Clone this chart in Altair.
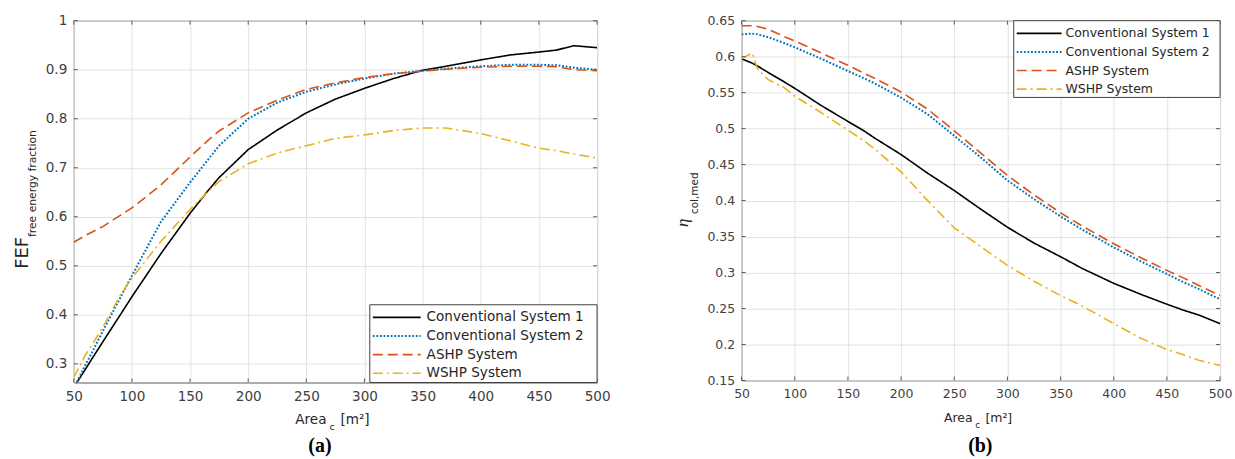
import altair as alt
import pandas as pd

SERIES = ["Conventional System 1", "Conventional System 2", "ASHP System", "WSHP System"]
COLORS = ["#000000", "#0072BD", "#D95319", "#EDB120"]
DASHES = [[1, 0], [1.8, 1.8], [10, 5], [10, 4, 2, 4]]
WIDTHS = [1.6, 2.0, 1.6, 1.6]

AREA = [50, 60, 65, 75, 90, 100, 125, 150, 165, 175, 200, 225, 250, 275, 300,
        325, 350, 370, 400, 425, 450, 465, 480, 500]

# (a) free energy fraction
FEF_CONV1 = [0.252, 0.289, 0.308, 0.345, 0.400, 0.437, 0.525, 0.607, 0.652, 0.680, 0.737, 0.777,
             0.812, 0.840, 0.862, 0.882, 0.899, 0.907, 0.920, 0.930, 0.936, 0.940, 0.949, 0.945]
FEF_CONV2 = [0.250, 0.298, 0.320, 0.367, 0.435, 0.480, 0.590, 0.670, 0.715, 0.745, 0.800, 0.833,
             0.855, 0.870, 0.882, 0.892, 0.898, 0.902, 0.907, 0.910, 0.910, 0.909, 0.904, 0.900]
FEF_ASHP = [0.548, 0.562, 0.568, 0.580, 0.603, 0.618, 0.665, 0.722, 0.755, 0.775, 0.812, 0.838,
            0.860, 0.873, 0.884, 0.892, 0.897, 0.901, 0.905, 0.907, 0.907, 0.906, 0.900, 0.898]
FEF_WSHP = [0.272, 0.318, 0.336, 0.375, 0.440, 0.475, 0.550, 0.615, 0.650, 0.672, 0.708, 0.730,
            0.745, 0.760, 0.767, 0.776, 0.781, 0.781, 0.770, 0.755, 0.740, 0.735, 0.728, 0.720]

# (b) collector efficiency
ETA_CONV1 = [0.597, 0.591, 0.587, 0.578, 0.565, 0.556, 0.532, 0.510, 0.497, 0.487, 0.464, 0.438,
             0.414, 0.388, 0.363, 0.341, 0.322, 0.306, 0.285, 0.270, 0.256, 0.248, 0.241, 0.229]
ETA_CONV2 = [0.631, 0.632, 0.631, 0.627, 0.619, 0.613, 0.597, 0.580, 0.570, 0.563, 0.543, 0.520,
             0.490, 0.460, 0.428, 0.402, 0.378, 0.360, 0.335, 0.316, 0.298, 0.287, 0.277, 0.263]
ETA_ASHP = [0.643, 0.643, 0.642, 0.638, 0.628, 0.622, 0.605, 0.588, 0.577, 0.570, 0.551, 0.527,
            0.497, 0.466, 0.435, 0.408, 0.383, 0.365, 0.340, 0.321, 0.303, 0.293, 0.282, 0.268]
ETA_WSHP = [0.597, 0.605, 0.583, 0.568, 0.557, 0.545, 0.522, 0.498, 0.483, 0.472, 0.440, 0.400,
            0.362, 0.336, 0.310, 0.288, 0.268, 0.254, 0.229, 0.209, 0.193, 0.186, 0.178, 0.171]

X_TICKS = [50, 100, 150, 200, 250, 300, 350, 400, 450, 500]
FEF_TICKS = [0.3, 0.4, 0.5, 0.6, 0.7, 0.8, 0.9, 1.0]
ETA_TICKS = [0.15, 0.2, 0.25, 0.3, 0.35, 0.4, 0.45, 0.5, 0.55, 0.6, 0.65]

SANS = "DejaVu Sans"
SERIF = "Liberation Serif"
BORDER = "#595959"
LABEL = "#404040"
GRID = "#e2e2e2"


def panel(series_vals, y_ticks, y_dom, w, h, fs, leg, titles, anchor):
    xs = alt.Scale(domain=[50, 500], nice=False, zero=False)
    ys = alt.Scale(domain=y_dom, nice=False, zero=False)
    xax = alt.Axis(values=X_TICKS, title=None, ticks=False, domain=False, grid=True,
                   gridColor=GRID, labelFont=SANS, labelFontSize=fs, labelColor=LABEL,
                   labelPadding=7, format="d", labelFlush=False)
    yax = alt.Axis(values=y_ticks, title=None, ticks=False, domain=False, grid=True,
                   gridColor=GRID, labelFont=SANS, labelFontSize=fs, labelColor=LABEL,
                   labelPadding=7, format="~g", labelFlush=False)

    layers = []
    for i, (name, vals) in enumerate(zip(SERIES, series_vals)):
        df = pd.DataFrame({"area": AREA, "val": vals, "series": name})
        layers.append(alt.Chart(df).mark_line(
            clip=True, strokeWidth=WIDTHS[i], color=COLORS[i], strokeDash=DASHES[i]
        ).encode(
            x=alt.X("area:Q", scale=xs, axis=xax),
            y=alt.Y("val:Q", scale=ys, axis=yax),
        ))

    ytdf = pd.DataFrame({"val": y_ticks})
    xtdf = pd.DataFrame({"area": X_TICKS})
    tl = 4
    layers += [
        alt.Chart(ytdf).mark_rule(color=BORDER).encode(
            y=alt.Y("val:Q", scale=ys, axis=yax), x=alt.value(0), x2=alt.value(tl)),
        alt.Chart(ytdf).mark_rule(color=BORDER).encode(
            y=alt.Y("val:Q", scale=ys, axis=yax), x=alt.value(w - tl), x2=alt.value(w)),
        alt.Chart(xtdf).mark_rule(color=BORDER).encode(
            x=alt.X("area:Q", scale=xs, axis=xax), y=alt.value(h - tl), y2=alt.value(h)),
        alt.Chart(xtdf).mark_rule(color=BORDER).encode(
            x=alt.X("area:Q", scale=xs, axis=xax), y=alt.value(0), y2=alt.value(tl)),
    ]

    one = alt.Data(values=[{"k": 1}])

    # legend
    bx0, bx1, by0, by1, sx0, sx1, tx, ry, lfs = leg
    layers.append(alt.Chart(one).mark_rect(fill="white", stroke="#404040", strokeWidth=1).encode(
        x=alt.value(bx0), x2=alt.value(bx1), y=alt.value(by0), y2=alt.value(by1)))
    for i, s in enumerate(SERIES):
        layers.append(alt.Chart(one).mark_rule(color=COLORS[i], strokeDash=DASHES[i],
                                               strokeWidth=WIDTHS[i]).encode(
            x=alt.value(sx0), x2=alt.value(sx1), y=alt.value(ry[i])))
        layers.append(alt.Chart(one).mark_text(text=s, font=SANS, fontSize=lfs, color="#262626",
                                               align="left", baseline="middle").encode(
            x=alt.value(tx), y=alt.value(ry[i])))

    # titles
    for t in titles:
        txt, x, y, f, size, ang, align, style, weight = t
        kw = dict(text=txt, font=f, fontSize=size, align=align, baseline="alphabetic",
                  color="#262626" if weight == "normal" else "#000000", fontWeight=weight,
                  fontStyle=style)
        if ang:
            kw["angle"] = ang
        layers.append(alt.Chart(one).mark_text(**kw).encode(x=alt.value(x), y=alt.value(y)))

    # invisible layout anchor
    ax0, ax1, ay = anchor
    layers.append(alt.Chart(one).mark_rule(opacity=0).encode(
        x=alt.value(ax0), x2=alt.value(ax1), y=alt.value(ay)))

    return alt.layer(*layers).properties(width=w, height=h)


TOP = 19
WL, HL = 525, 363
WR, HR = 480, 361
FL, FR = 13.6, 12.5

left_leg = (297, 525, 285, 363, 300, 348, 354, [297.7, 316.4, 335.0, 353.7], FL)
right_leg = (273, 480, 0, 77, 276, 321, 325, [12.7, 31.4, 50.0, 68.7], FR)

cl = WL / 2
left_titles = [
    ("Area", cl - 9, HL + 42, SANS, FL, 0, "right", "normal", "normal"),
    ("c", cl - 6, HL + 48, SANS, 9.5, 0, "left", "normal", "normal"),
    ("[m²]", cl + 5, HL + 42, SANS, FL, 0, "left", "normal", "normal"),
    ("FEF", -46, 249, SANS, 18, 270, "left", "normal", "normal"),
    ("free energy fraction", -38, 217, SANS, 10.8, 270, "left", "normal", "normal"),
    ("(a)", 247, 433, SERIF, 20, 0, "center", "normal", "bold"),
]
cr = WR / 2
right_titles = [
    ("Area", cr - 8.3, HR + 42, SANS, FR, 0, "right", "normal", "normal"),
    ("c", cr - 5.5, HR + 48, SANS, 8.8, 0, "left", "normal", "normal"),
    ("[m²]", cr + 4.6, HR + 42, SANS, FR, 0, "left", "normal", "normal"),
    ("η", -54, 207, SERIF, 17, 270, "left", "italic", "normal"),
    ("col,med", -44, 194, SANS, 10.5, 270, "left", "normal", "normal"),
    ("(b)", 239.5, 433, SERIF, 20, 0, "center", "normal", "bold"),
]

left = panel([FEF_CONV1, FEF_CONV2, FEF_ASHP, FEF_WSHP], FEF_TICKS, [0.262, 1.0],
             WL, HL, FL, left_leg, left_titles, (-73, 547, -TOP))
right = panel([ETA_CONV1, ETA_CONV2, ETA_ASHP, ETA_WSHP], ETA_TICKS, [0.15, 0.65],
              WR, HR, FR, right_leg, right_titles, (-121, 494, -TOP))

chart = alt.hconcat(left, right, spacing=0).properties(
    padding=0, background="white"
).configure_view(stroke=BORDER, strokeWidth=1)

chart.save("out.html", embed_options={"renderer": "svg", "actions": False})
